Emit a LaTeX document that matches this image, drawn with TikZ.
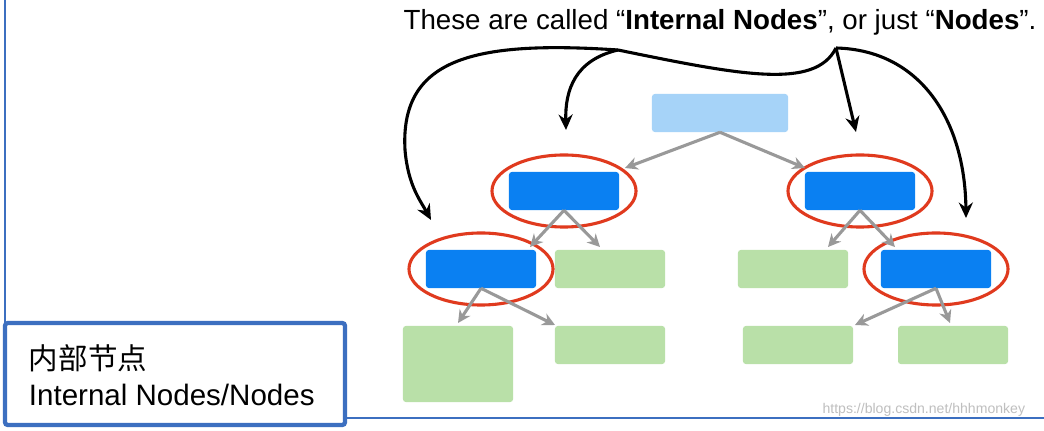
\documentclass[tikz,border=0pt]{standalone}
\usepackage{fontspec}
\setmainfont{Liberation Sans}
\newfontfamily\cjk{Noto Sans CJK SC}
\usetikzlibrary{arrows.meta,shapes.geometric}
\definecolor{rootblue}{HTML}{A6D3F8}
\definecolor{nodeblue}{HTML}{0A80F2}
\definecolor{leafgreen}{HTML}{B9E0A8}
\definecolor{ringred}{HTML}{E03A1E}
\definecolor{frameblue}{HTML}{3C6FC0}
\begin{document}
\begin{tikzpicture}
[x=0.025cm,y=-0.025cm,
 box/.style={rectangle,rounded corners=2pt,inner sep=0pt,minimum width=2.75cm,minimum height=0.95cm},
 root/.style={box,fill=rootblue,minimum width=3.4cm},
 inner/.style={box,fill=nodeblue},
 leaf/.style={box,fill=leafgreen},
 ring/.style={ellipse,draw=ringred,line width=2.2pt,minimum width=3.6cm,minimum height=1.8cm},
 link/.style={draw=black!40,line width=2.2pt,-{Stealth[length=9pt,width=9pt]}},
 point/.style={draw=black,line width=2.2pt,-{Stealth[length=11pt,width=10pt]}}]
\useasboundingbox (0,0) rectangle (1044,431);
\fill[white] (0,0) rectangle (1044,431);
% title
\node (title) at (720,22) {\fontsize{19.7}{22}\selectfont These are called ``\textbf{Internal Nodes}'', or just ``\textbf{Nodes}''.};
% tree
\node[root]  (r)   at (720,113) {};
\node[inner] (a)   at (564,191) {};
\node[inner] (b)   at (860,191) {};
\node[inner] (aa)  at (481,269) {};
\node[leaf]  (ab)  at (610,269) {};
\node[leaf]  (ba)  at (793,269) {};
\node[inner] (bb)  at (936,269) {};
\node[leaf,minimum height=1.9cm] (aaa) at (458,364) {};
\node[leaf]  (aab) at (610,345) {};
\node[leaf]  (bba) at (798,345) {};
\node[leaf]  (bbb) at (953,345) {};
\foreach \n in {a,b,aa,bb}
  \node[ring] (ring-\n) at (\n) {};
\coordinate (ra) at (625,168);
\coordinate (rb) at (805,168);
\path[link] (r.south) -- (ra);
\path[link] (r.south) -- (rb);
\path[link] (a.south) -- (530,247);
\path[link] (a.south) -- (600,247);
\path[link] (b.south) -- (828,247);
\path[link] (b.south) -- (895,247);
\path[link] (aa.south) -- (458,323);
\path[link] (aa.south) -- (555,325);
\path[link] (bb.south) -- (855,325);
\path[link] (bb.south) -- (950,323);
% pointers
\coordinate (hub) at (836,48);
\coordinate (fork) at (618,50);
\coordinate (tipaa) at (431,220);
\path[draw=black,line width=2.2pt] (hub) .. controls (815,90) and (740,75) .. (fork);
\path[point] (fork) .. controls (470,40) and (400,60) .. (405,150) .. controls (408,185) and (420,200) .. (tipaa);
\path[point] (fork) .. controls (575,60) and (565,90) .. (566,130);
\path[point] (hub) -- (856,132);
\path[point] (hub) .. controls (920,50) and (965,120) .. (966,218);
% caption box
\draw[frameblue,line width=1.2pt] (5,0) -- (5,323);
\draw[frameblue,line width=1.2pt] (345,418) -- (1044,418);
\node[draw=frameblue,line width=3pt,rounded corners=2pt,minimum width=8.5cm,minimum height=2.55cm] (cap) at (175,374) {};
\node[anchor=west,align=left,font=\fontsize{21}{25.6}\selectfont] (capt) at (24,375) {{\cjk 内部节点}\\Internal Nodes/Nodes};
\node[text=black!25,anchor=east] (wm) at (1030,410) {\fontsize{10}{12}\selectfont https://blog.csdn.net/hhhmonkey};
\end{tikzpicture}
\end{document}
